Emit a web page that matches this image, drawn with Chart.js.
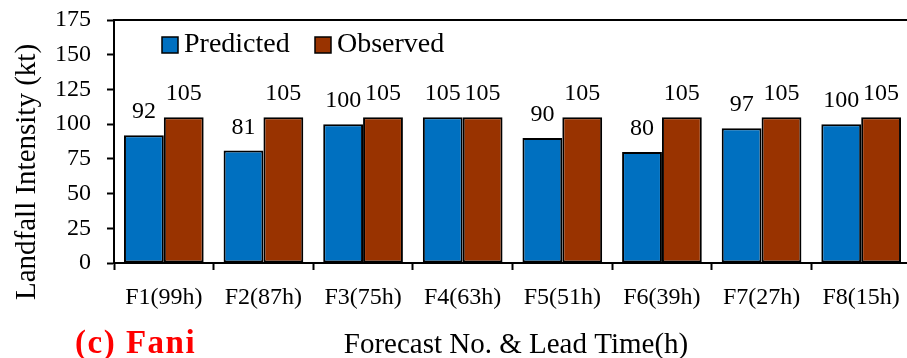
<!DOCTYPE html>
<html>
<head>
<meta charset="utf-8">
<script src="https://cdn.jsdelivr.net/npm/chart.js@4.4.1/dist/chart.umd.min.js"></script>
<style>
  html, body { margin: 0; padding: 0; background: #fff; overflow: hidden; }
  #wrap { position: relative; width: 912px; height: 358px; }
</style>
</head>
<body>
<div id="wrap"><canvas id="c" width="912" height="358"></canvas></div>
<script>
// Forecast runs with their lead times
const categories = ['F1(99h)', 'F2(87h)', 'F3(75h)', 'F4(63h)', 'F5(51h)', 'F6(39h)', 'F7(27h)', 'F8(15h)'];
// Landfall intensity in knots
const predicted = [92, 81, 100, 105, 90, 80, 97, 100];
const observed  = [105, 105, 105, 105, 105, 105, 105, 105];
const yTicks = [0, 25, 50, 75, 100, 125, 150, 175];

const SERIF = "'Times New Roman', 'Liberation Serif', serif";
const BLUE = '#0070C0';
const BROWN = '#993300';

// Value labels above each bar
const valueLabels = {
  id: 'valueLabels',
  afterDatasetsDraw(chart) {
    const ctx = chart.ctx;
    ctx.save();
    ctx.font = '24px ' + SERIF;
    ctx.fillStyle = '#000';
    ctx.textAlign = 'center';
    ctx.textBaseline = 'alphabetic';
    chart.data.datasets.forEach((ds, di) => {
      const meta = chart.getDatasetMeta(di);
      meta.data.forEach((bar, i) => {
        ctx.fillText(String(ds.data[i]), bar.x, bar.y - 17);
      });
    });
    ctx.restore();
  }
};

// Plot frame top line, legend inside the plot, axis titles and panel caption
const decorations = {
  id: 'decorations',
  afterDraw(chart) {
    const ctx = chart.ctx;
    const area = chart.chartArea;
    ctx.save();
    // top frame line
    ctx.strokeStyle = '#000';
    ctx.lineWidth = 2;
    ctx.beginPath();
    ctx.moveTo(area.left - 1, area.top);
    ctx.lineTo(area.right, area.top);
    ctx.stroke();
    // legend
    const items = [{x: 162}, {x: 315}];
    ctx.font = '28px ' + SERIF;
    ctx.textBaseline = 'middle';
    ctx.textAlign = 'left';
    chart.data.datasets.forEach((ds, di) => {
      const x = items[di].x;
      ctx.fillStyle = ds.backgroundColor;
      ctx.fillRect(x, 37, 16, 16);
      ctx.strokeStyle = '#000';
      ctx.lineWidth = 1.5;
      ctx.strokeRect(x, 37, 16, 16);
      ctx.fillStyle = '#000';
      ctx.fillText(ds.label, x + 22, 45);
    });
    // y axis title
    ctx.save();
    ctx.translate(27, 172);
    ctx.rotate(-Math.PI / 2);
    ctx.textAlign = 'center';
    ctx.textBaseline = 'middle';
    ctx.font = '29px ' + SERIF;
    ctx.fillStyle = '#000';
    ctx.fillText('Landfall Intensity (kt)', 0, 0);
    ctx.restore();
    // x axis title
    ctx.textAlign = 'center';
    ctx.textBaseline = 'alphabetic';
    ctx.font = '29px ' + SERIF;
    ctx.fillStyle = '#000';
    ctx.fillText('Forecast No. & Lead Time(h)', 516, 353);
    // panel caption
    ctx.textAlign = 'left';
    ctx.font = 'bold 33px ' + SERIF;
    ctx.letterSpacing = '1.5px';
    ctx.fillStyle = '#FF0000';
    ctx.fillText('(c) Fani', 75, 353);
    ctx.restore();
  }
};

new Chart(document.getElementById('c'), {
  type: 'bar',
  data: {
    labels: categories,
    datasets: [
      { label: 'Predicted', data: predicted, backgroundColor: BLUE, borderColor: '#000', borderWidth: 2, borderSkipped: false },
      { label: 'Observed', data: observed, backgroundColor: BROWN, borderColor: '#000', borderWidth: 2, borderSkipped: false }
    ]
  },
  options: {
    responsive: false,
    animation: false,
    layout: { padding: { left: 0, right: 1, top: 20, bottom: 0 } },
    datasets: { bar: { categoryPercentage: 0.8, barPercentage: 1.0 } },
    plugins: { legend: { display: false }, tooltip: { enabled: false } },
    scales: {
      x: {
        type: 'category',
        offset: true,
        grid: { display: true, drawOnChartArea: false, drawTicks: true, tickLength: 7, tickColor: '#000', tickWidth: 2, offset: true },
        border: { display: true, color: '#000', width: 2 },
        ticks: { color: '#000', font: { family: SERIF, size: 24 }, padding: 13, maxRotation: 0, autoSkip: false },
        afterFit(scale) { scale.height = 95; scale.paddingLeft = 0; scale.paddingRight = 0; }
      },
      y: {
        min: 0,
        max: 175,
        afterBuildTicks(scale) { scale.ticks = yTicks.map(v => ({ value: v })); },
        grid: { display: true, drawOnChartArea: false, drawTicks: true, tickLength: 7, tickColor: '#000', tickWidth: 2 },
        border: { display: true, color: '#000', width: 2 },
        ticks: { color: '#000', font: { family: SERIF, size: 24 }, padding: 16 },
        afterFit(scale) { scale.width = 114; scale.paddingTop = 0; scale.paddingBottom = 0; }
      }
    }
  },
  plugins: [valueLabels, decorations]
});
</script>
</body>
</html>
